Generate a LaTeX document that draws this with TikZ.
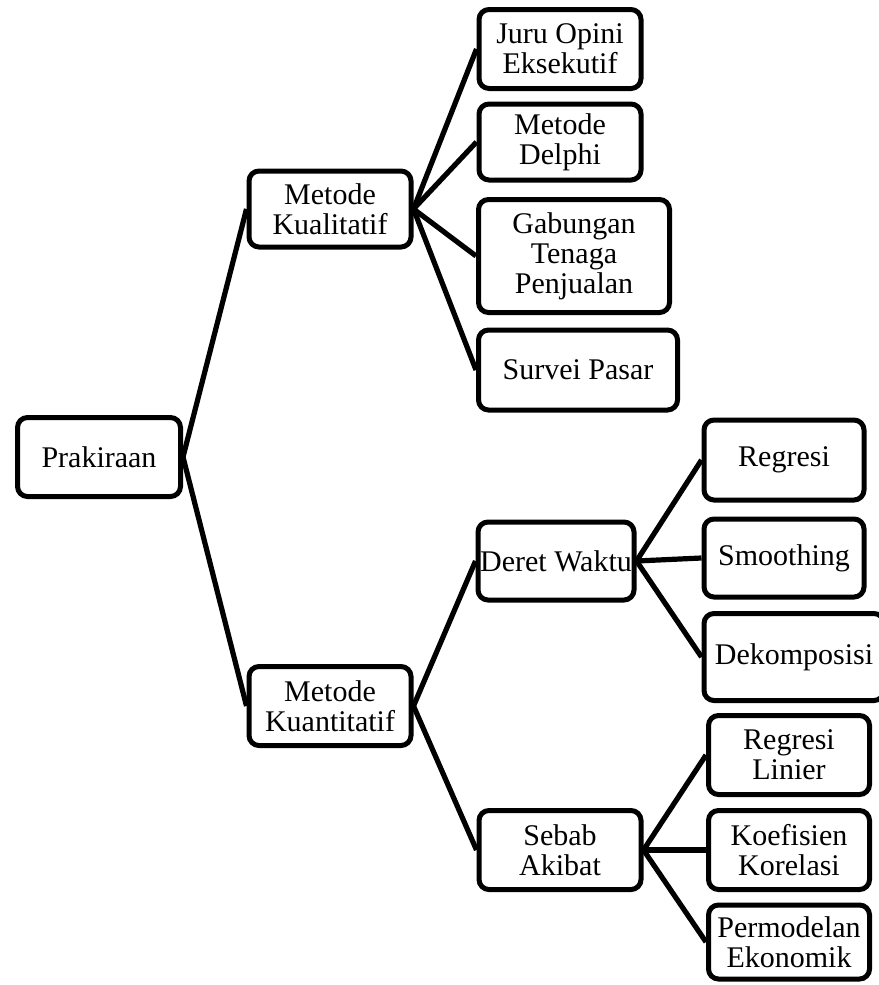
\documentclass[tikz,border=0pt]{standalone}
\usepackage{fontspec}
\setmainfont{Liberation Serif}
\usetikzlibrary{positioning, calc}

\tikzset{
    box/.style={draw, line width=2.5pt, rounded corners=5pt, align=center,
        inner sep=0pt, font=\fontsize{15pt}{15pt}\selectfont},
    link/.style={line width=2.6pt}
}

\begin{document}
\begin{tikzpicture}[x=0.5pt, y=-0.5pt]
    \useasboundingbox (0, 0) rectangle (878, 985);

    \node[box, minimum width=81.5pt, minimum height=39.5pt] (prak) at (99, 457) {Prakiraan};
    \node[box, minimum width=81pt, minimum height=38pt] (kual) at (330, 209) {Metode\\Kualitatif};
    \node[box, minimum width=81pt, minimum height=39.5pt] (kuan) at (330, 706) {Metode\\Kuantitatif};

    \node[box, minimum width=81pt, minimum height=39.5pt] (juru) at (560, 49) {Juru Opini\\Eksekutif};
    \node[box, minimum width=81pt, minimum height=38pt] (delphi) at (560, 142) {Metode\\Delphi};
    \node[box, minimum width=95.5pt, minimum height=56.5pt] (gab) at (574, 256) {Gabungan\\Tenaga\\Penjualan};
    \node[box, minimum width=99.5pt, minimum height=40pt] (survei) at (578, 370) {Survei Pasar};

    \node[box, minimum width=78pt, minimum height=39pt] (deret) at (556, 561) {Deret Waktu};
    \node[box, minimum width=81pt, minimum height=39.5pt] (sebab) at (560, 850) {Sebab\\Akibat};

    \node[box, minimum width=80pt, minimum height=40pt] (regresi) at (784, 460) {Regresi};
    \node[box, minimum width=80pt, minimum height=39pt] (smooth) at (784, 558) {Smoothing};
    \node[box, minimum width=90pt, minimum height=43.5pt] (dekomp) at (794, 657) {Dekomposisi};

    \node[box, minimum width=80.5pt, minimum height=39.5pt] (reglin) at (789, 755) {Regresi\\Linier};
    \node[box, minimum width=80.5pt, minimum height=39.5pt] (koef) at (789, 850) {Koefisien\\Korelasi};
    \node[box, minimum width=80.5pt, minimum height=37pt] (perm) at (789, 942) {Permodelan\\Ekonomik};

    \draw[link]
        (prak.east) edge (kual.west)
        (prak.east) edge (kuan.west)
        (kual.east) edge (juru.west)
        (kual.east) edge (delphi.west)
        (kual.east) edge (gab.west)
        (kual.east) edge (survei.west)
        (kuan.east) edge (deret.west)
        (kuan.east) edge (sebab.west)
        (deret.east) edge (regresi.west)
        (deret.east) edge (smooth.west)
        (deret.east) edge (dekomp.west)
        (sebab.east) edge (reglin.west)
        (sebab.east) edge (koef.west)
        (sebab.east) edge (perm.west)
        ;
\end{tikzpicture}
\end{document}
